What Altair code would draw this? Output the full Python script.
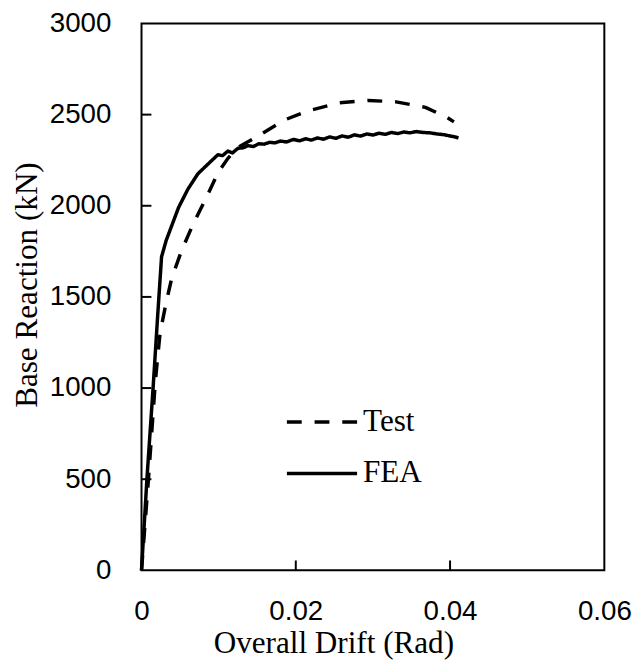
import altair as alt
import pandas as pd

# ---- data ----
test_drift = [0, 0.0009, 0.0018, 0.0024, 0.0031, 0.0039, 0.0052, 0.0067, 0.0084, 0.0099,
              0.0112, 0.0125, 0.0150, 0.0185, 0.0215, 0.0257, 0.0294, 0.0330, 0.0368,
              0.0396, 0.0405]
test_force = [0, 500, 1040, 1300, 1450, 1600, 1755, 1900, 2045, 2180,
              2260, 2320, 2380, 2470, 2520, 2565, 2578, 2570, 2540,
              2485, 2460]

fea_drift = [0, 0.0007, 0.0015, 0.0021, 0.0026, 0.0032, 0.0040, 0.0048, 0.0060, 0.0073,
             0.0086, 0.0099, 0.0105, 0.0112, 0.0118, 0.0125, 0.0132, 0.0138, 0.0145,
             0.0152, 0.0159, 0.0166, 0.0173, 0.0180, 0.0188, 0.0197, 0.0205, 0.0213,
             0.0220, 0.0228, 0.0236, 0.0244, 0.0252, 0.0260, 0.0268, 0.0276, 0.0284,
             0.0292, 0.0300, 0.0308, 0.0316, 0.0324, 0.0332, 0.0340, 0.0348, 0.0356,
             0.0365, 0.0374, 0.0383, 0.0392, 0.0400, 0.0406, 0.0411]
fea_force = [0, 500, 1000, 1400, 1720, 1810, 1900, 1990, 2090, 2175,
             2228, 2280, 2275, 2300, 2290, 2315, 2318, 2330, 2325,
             2340, 2338, 2348, 2345, 2355, 2350, 2364, 2356, 2368,
             2360, 2372, 2365, 2378, 2370, 2383, 2376, 2389, 2382,
             2394, 2388, 2398, 2392, 2402, 2396, 2405, 2400, 2407,
             2402, 2400, 2394, 2390, 2383, 2378, 2372]

series_names = ["Test", "FEA"]
x_ticks = [0, 0.02, 0.04, 0.06]
y_ticks = [0, 500, 1000, 1500, 2000, 2500, 3000]

rows = []
for i, (x, y) in enumerate(zip(test_drift, test_force)):
    rows.append({"drift": x, "force": y, "series": "Test", "idx": i})
for i, (x, y) in enumerate(zip(fea_drift, fea_force)):
    rows.append({"drift": x, "force": y, "series": "FEA", "idx": i})
df = pd.DataFrame(rows)

W, H = 468, 553
X_MAX, Y_MAX = 0.06, 3000
TICK_PX = 10
xscale = alt.Scale(domain=[0, X_MAX], nice=False, zero=True)
yscale = alt.Scale(domain=[0, Y_MAX], nice=False, zero=True)

serif = "Liberation Serif"
sans = "Liberation Sans"

x_axis = alt.Axis(values=x_ticks, format="~g", grid=False, ticks=False, tickSize=0, domain=False,
                  labelFont=sans, labelFontSize=28, labelColor="black", labelPadding=50,
                  labelBaseline="alphabetic", labelFlush=False,
                  title="Overall Drift (Rad)", titleFont=serif, titleFontSize=31.5,
                  titleFontWeight="normal", titleColor="black", titleX=194, titleY=83,
                  titleAlign="center", titleBaseline="alphabetic")
y_axis = alt.Axis(values=y_ticks, format="d", grid=False, ticks=False, tickSize=0, domain=False,
                  labelFont=sans, labelFontSize=28, labelColor="black", labelPadding=31,
                  labelFlush=False,
                  title="Base Reaction (kN)", titleFont=serif, titleFontSize=31.5,
                  titleFontWeight="normal", titleColor="black", titleAngle=270,
                  titleX=-106, titleY=264, titleAlign="center", titleBaseline="alphabetic")

lines = alt.Chart(df).mark_line(strokeWidth=3.5, color="black", strokeJoin="round").encode(
    x=alt.X("drift:Q", scale=xscale, axis=x_axis),
    y=alt.Y("force:Q", scale=yscale, axis=y_axis),
    strokeDash=alt.StrokeDash(
        "series:N",
        scale=alt.Scale(domain=series_names, range=[[15, 13], [1, 0]]),
        legend=alt.Legend(title=None, orient="none", legendX=145, legendY=383,
                          symbolType="stroke", symbolSize=5041, symbolStrokeWidth=3.5,
                          symbolStrokeColor="black", labelFont=serif, labelFontSize=31.5,
                          labelColor="black", labelOffset=4, clipHeight=40, rowPadding=12,
                          padding=0),
    ),
    detail="series:N",
    order="idx:Q",
)

# inward tick marks (tick length expressed in data units of the other axis)
xt = alt.Chart(pd.DataFrame({"v": x_ticks[1:-1]})).mark_rule(color="black", strokeWidth=2).encode(
    x=alt.X("v:Q", scale=xscale, axis=x_axis),
    y=alt.datum(0, scale=yscale),
    y2=alt.datum(Y_MAX * TICK_PX / H))
yt = alt.Chart(pd.DataFrame({"v": y_ticks[1:-1]})).mark_rule(color="black", strokeWidth=2).encode(
    y=alt.Y("v:Q", scale=yscale, axis=y_axis),
    x=alt.datum(0, scale=xscale),
    x2=alt.datum(X_MAX * TICK_PX / W))

chart = alt.layer(lines, xt, yt).properties(
    width=W, height=H,
    autosize=alt.AutoSizeParams(type="none"),
    padding={"left": 135, "top": 12, "right": 30, "bottom": 87},
).configure(background="white").configure_view(stroke="black", strokeWidth=2)

chart.save("out.html", embed_options={"renderer": "svg", "actions": False})
